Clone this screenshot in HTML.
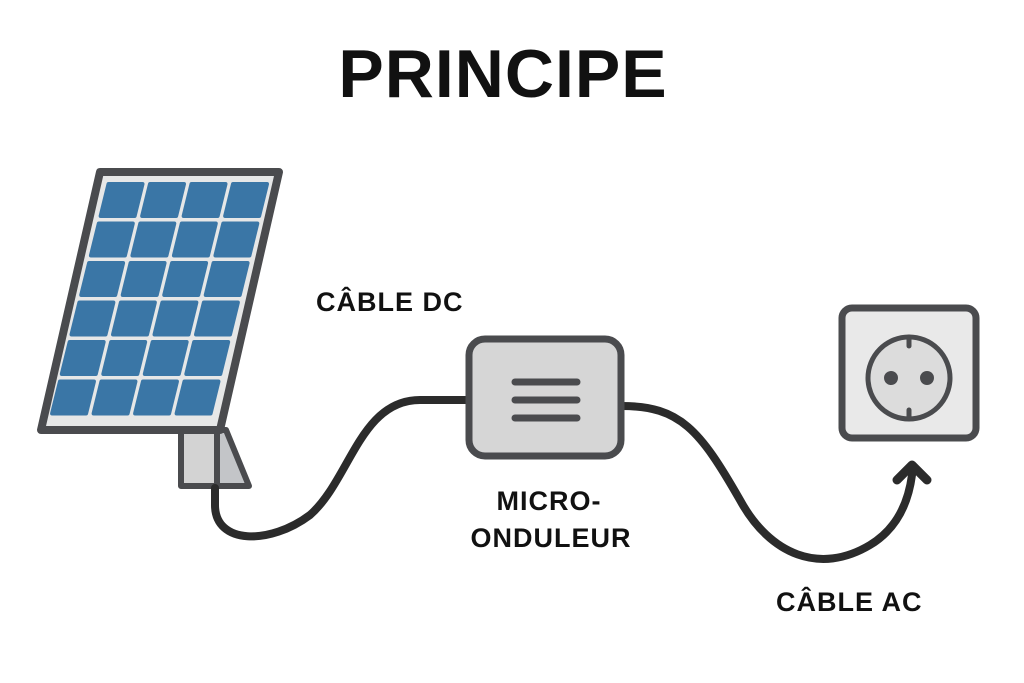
<!DOCTYPE html>
<html><head><meta charset="utf-8"><style>
body{margin:0;background:#fff;}
svg{display:block}
text{font-family:"Liberation Sans","DejaVu Sans",sans-serif;font-weight:bold;fill:#111}
</style></head><body>
<svg width="1024" height="683" viewBox="0 0 1024 683">
<text x="503" y="97" font-size="68" text-anchor="middle" letter-spacing="1">PRINCIPE</text>
<!-- stand -->
<rect x="181" y="430" width="36" height="56" fill="#d3d3d3" stroke="#4a4b4e" stroke-width="6" stroke-linejoin="round"/>
<polygon points="217,430 226,430 249,486 217,486" fill="#c3c5c8" stroke="#4a4b4e" stroke-width="6" stroke-linejoin="round"/>
<!-- panel -->
<polygon points="100,172 279,172 220,430 41,430" fill="#e6e7e7" stroke="#4a4b4e" stroke-width="8" stroke-linejoin="round"/>
<g fill="#3a76a6" id="cells"></g>
<!-- cables -->
<path d="M215,488 V505 C215,545 270,545 310,515 C350,480 360,400 420,400 H468" fill="none" stroke="#2b2b2b" stroke-width="8" stroke-linecap="round"/>
<path d="M622,406 C680,406 700,430 740,500 C770,555 820,575 870,545 C895,530 908,505 912,475" fill="none" stroke="#2b2b2b" stroke-width="8" stroke-linecap="round"/>
<polyline points="897,480 912,465 927,480" fill="none" stroke="#2b2b2b" stroke-width="9" stroke-linecap="round" stroke-linejoin="round"/>
<!-- inverter -->
<rect x="469" y="339" width="152" height="117" rx="16" fill="#d6d6d6" stroke="#4a4b4e" stroke-width="7"/>
<g stroke="#4a4b4e" stroke-width="7" stroke-linecap="round">
<line x1="515" y1="382" x2="577" y2="382"/><line x1="515" y1="400" x2="577" y2="400"/><line x1="515" y1="418" x2="577" y2="418"/></g>
<!-- socket -->
<rect x="842" y="308" width="134" height="130" rx="10" fill="#e9e9e9" stroke="#4a4b4e" stroke-width="7"/>
<circle cx="909" cy="378" r="41" fill="#dcdcdc" stroke="#4a4b4e" stroke-width="5"/>
<g stroke="#4a4b4e" stroke-width="5" stroke-linecap="round">
<line x1="909" y1="337" x2="909" y2="346"/><line x1="909" y1="410" x2="909" y2="419"/></g>
<circle cx="891" cy="378" r="7" fill="#4a4b4e"/><circle cx="927" cy="378" r="7" fill="#4a4b4e"/>
<text x="316" y="311" font-size="27" letter-spacing="1">CÂBLE DC</text>
<text x="549" y="510" font-size="27" letter-spacing="1" text-anchor="middle">MICRO-</text>
<text x="551" y="547" font-size="27" letter-spacing="1" text-anchor="middle">ONDULEUR</text>
<text x="776" y="611" font-size="27" letter-spacing="1">CÂBLE AC</text>
</svg>
<script>
var g=document.getElementById('cells');var s='';
function xl(y){return 109-(y-182)*(59/240);}
for(var r=0;r<6;r++){for(var c=0;c<4;c++){
var y0=184+r*39.5,y1=y0+32;
var w=34,step=41.5;
var xa=xl(y0)+c*step,xb=xl(y1)+c*step;
s+='<polygon points="'+xa+','+y0+' '+(xa+w)+','+y0+' '+(xb+w)+','+y1+' '+xb+','+y1+'" stroke="#3a76a6" stroke-width="4" stroke-linejoin="round"/>';}}
g.innerHTML=s;
</script>
</body></html>
